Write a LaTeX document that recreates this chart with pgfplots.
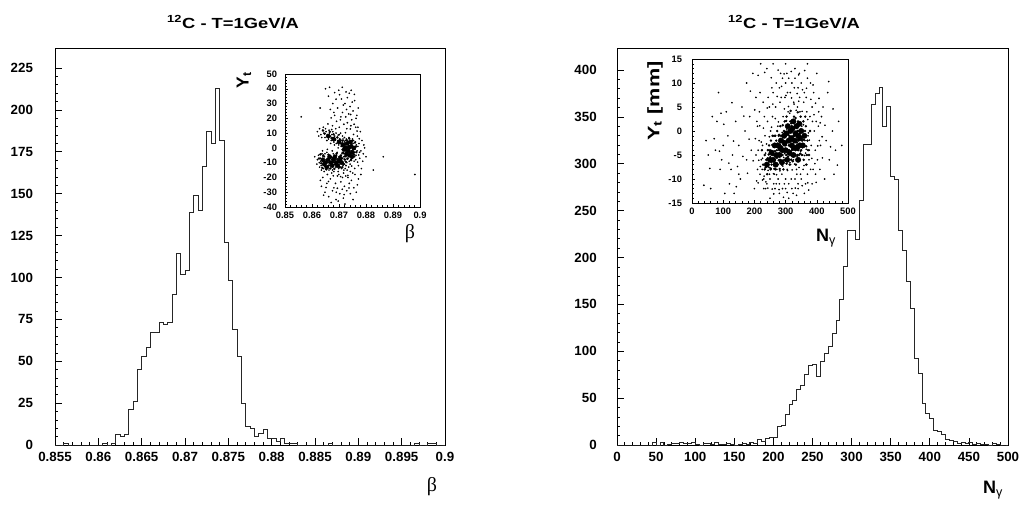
\documentclass[border=0pt]{standalone}
\usepackage{pgfplots}
\pgfplotsset{compat=1.18}
\usepackage{fontspec}
\setmainfont{Liberation Sans}
\newfontfamily\greekserif{Liberation Serif}
\begin{document}
\begin{tikzpicture}
\useasboundingbox (0,0) rectangle (767.25pt,381pt);
\pgfplotsset{
  mainax/.style={scale only axis, tick pos=left, tick align=inside,
    axis line style={line width=0.6pt}, major tick length=5pt, minor tick length=2.6pt,
    every tick/.style={black, line width=0.5pt},
    /pgf/number format/assume math mode=true,
    tick label style={font=\bfseries\fontsize{10}{12}\selectfont},
    xticklabel style={yshift=-2pt}},
  inset/.style={scale only axis, tick pos=left, tick align=inside,
    axis line style={line width=0.5pt}, major tick length=2.5pt, minor tick length=1.2pt,
    every tick/.style={black, line width=0.4pt},
    /pgf/number format/assume math mode=true,
    tick label style={font=\bfseries\fontsize{7}{8}\selectfont}},
  sparse/.style={only marks, mark=*, mark size=0.4pt, black},
  med/.style={only marks, mark=*, mark size=0.7pt, black},
  dark/.style={only marks, mark=*, mark size=1.7pt, black}
}
% ---------------- left main histogram ----------------
\begin{axis}[mainax, at={(41.25pt,47.25pt)}, anchor=south west,
  width=292.5pt, height=297.75pt,
  xmin=0.855, xmax=0.9, ymin=0, ymax=236.9,
  xtick={0.855,0.86,0.865,0.87,0.875,0.88,0.885,0.89,0.895,0.9},
  xticklabels={0.855,0.86,0.865,0.87,0.875,0.88,0.885,0.89,0.895,0.9},
  minor x tick num=4,
  ytick={0,25,50,75,100,125,150,175,200,225}, minor y tick num=4,
  yticklabel style={xshift=-13pt}]
\addplot[const plot, black!85, line width=0.7pt] table {
x y
0.8550 0
0.8555 0
0.8560 1
0.8565 0
0.8570 0
0.8575 0
0.8580 0
0.8585 0
0.8590 0
0.8595 0
0.8600 0
0.8605 1
0.8610 0
0.8615 1
0.8620 6
0.8625 5
0.8630 6
0.8635 21
0.8640 26
0.8645 45
0.8650 53
0.8655 58
0.8660 67
0.8665 67
0.8670 73
0.8675 72
0.8680 73
0.8685 90
0.8690 114
0.8695 102
0.8700 104
0.8705 139
0.8710 149
0.8715 140
0.8720 166
0.8725 187
0.8730 180
0.8735 213
0.8740 182
0.8745 121
0.8750 98
0.8755 69
0.8760 53
0.8765 25
0.8770 11
0.8775 10
0.8780 5
0.8785 7
0.8790 9
0.8795 4
0.8800 4
0.8805 2
0.8810 4
0.8815 1
0.8820 1
0.8825 1
0.8830 0
0.8835 0
0.8840 0
0.8845 0
0.8850 0
0.8855 0
0.8860 0
0.8865 1
0.8870 0
0.8875 0
0.8880 0
0.8885 0
0.8890 0
0.8895 0
0.8900 0
0.8905 0
0.8910 0
0.8915 0
0.8920 0
0.8925 0
0.8930 0
0.8935 0
0.8940 0
0.8945 0
0.8950 0
0.8955 0
0.8960 0
0.8965 1
0.8970 0
0.8975 0
0.8980 1
0.8985 1
0.8990 0
0.8995 0
0.9000 0
};
\end{axis}
% ---------------- left inset scatter ----------------
\begin{axis}[inset, at={(213.75pt,225.75pt)}, anchor=south west,
  width=101.25pt, height=99.75pt,
  xmin=0.85, xmax=0.9, ymin=-40, ymax=50,
  xtick={0.85,0.86,0.87,0.88,0.89,0.9}, xticklabels={0.85,0.86,0.87,0.88,0.89,0.9},
  minor x tick num=4,
  ytick={-40,-30,-20,-10,0,10,20,30,40,50}, minor y tick num=4,
  yticklabel style={xshift=-2.5pt}]
\addplot[sparse] coordinates {
(0.8665,41) (0.8712,41) (0.8745,39) (0.8702,36) (0.8731,34) (0.8689,33) (0.8758,32) (0.8677,30)
(0.8722,30) (0.8741,28) (0.8695,27) (0.8668,26) (0.8752,25) (0.8713,24) (0.8736,23) (0.8684,22)
(0.8725,21) (0.8763,20) (0.8705,19) (0.8747,19) (0.8691,18) (0.8731,17) (0.8756,16) (0.8718,16)
(0.8676,15) (0.8744,15) (0.8701,14) (0.8762,14) (0.8729,13) (0.8688,13) (0.8661,35) (0.8771,27)
(0.8699,39) (0.8738,37) (0.8716,29) (0.8681,24) (0.8766,22) (0.8749,31) (0.8728,26) (0.8707,21)
(0.8620,11) (0.8628,13) (0.8633,9) (0.8639,12) (0.8644,10) (0.8648,7) (0.8652,11) (0.8657,9)
(0.8661,6) (0.8664,10) (0.8668,8) (0.8671,5) (0.8674,9) (0.8678,7) (0.8681,4) (0.8684,8)
(0.8687,6) (0.8690,3) (0.8693,7) (0.8696,5) (0.8699,2) (0.8702,6) (0.8705,4) (0.8708,1)
(0.8711,5) (0.8714,3) (0.8717,0) (0.8720,4) (0.8723,2) (0.8726,-1) (0.8636,7) (0.8650,13)
(0.8663,12) (0.8677,11) (0.8689,10) (0.8701,9) (0.8713,8) (0.8655,5) (0.8669,3) (0.8683,2)
(0.8697,0) (0.8642,14) (0.8625,8) (0.8715,6) (0.8706,10)
(0.8708,2) (0.8712,-3) (0.8715,5) (0.8718,-6) (0.8721,1) (0.8724,-2) (0.8727,6) (0.8730,-5)
(0.8733,3) (0.8736,-1) (0.8739,4) (0.8742,-4) (0.8745,2) (0.8748,-7) (0.8751,0) (0.8754,5)
(0.8757,-3) (0.8760,1) (0.8763,-5) (0.8710,-7) (0.8716,0) (0.8722,-8) (0.8728,1) (0.8734,-6)
(0.8740,0) (0.8746,-2) (0.8752,3) (0.8758,-6) (0.8764,2) (0.8713,4) (0.8719,-4) (0.8725,3)
(0.8731,-3) (0.8737,7) (0.8743,1) (0.8749,-5) (0.8755,-1) (0.8761,4) (0.8720,7) (0.8732,0)
(0.8744,-8) (0.8750,6) (0.8726,-6) (0.8738,-9) (0.8747,4) (0.8756,-9) (0.8767,-2) (0.8770,1)
(0.8711,1) (0.8729,-10) (0.8741,-11) (0.8735,2) (0.8753,-4) (0.8759,-1) (0.8723,5) (0.8717,-2)
(0.8739,-2) (0.8744,3) (0.8733,-7) (0.8762,-8)
(0.8620,-8) (0.8624,-5) (0.8627,-10) (0.8631,-7) (0.8634,-12) (0.8637,-4) (0.8640,-9) (0.8643,-14)
(0.8646,-6) (0.8649,-11) (0.8652,-8) (0.8655,-3) (0.8658,-13) (0.8661,-7) (0.8664,-10) (0.8667,-5)
(0.8670,-12) (0.8673,-8) (0.8676,-15) (0.8679,-4) (0.8682,-10) (0.8685,-7) (0.8688,-13) (0.8691,-5)
(0.8694,-9) (0.8697,-16) (0.8700,-6) (0.8703,-11) (0.8706,-8) (0.8709,-14) (0.8712,-10) (0.8715,-12)
(0.8718,-15) (0.8721,-11) (0.8632,-9) (0.8641,-6) (0.8651,-13) (0.8660,-10) (0.8669,-7) (0.8678,-12)
(0.8687,-9) (0.8696,-11) (0.8705,-13) (0.8714,-7) (0.8723,-14) (0.8628,-13) (0.8645,-16) (0.8663,-15)
(0.8681,-16) (0.8699,-14) (0.8717,-17) (0.8639,-2) (0.8657,-1) (0.8675,-2) (0.8693,-3) (0.8711,-4)
(0.8666,-9) (0.8684,-5) (0.8702,-9) (0.8654,-10) (0.8672,-10) (0.8690,-12) (0.8708,-5) (0.8726,-12)
(0.8730,-15) (0.8736,-13) (0.8742,-16) (0.8648,-4) (0.8618,-11) (0.8635,-15)
(0.8640,-20) (0.8655,-24) (0.8668,-21) (0.8681,-27) (0.8694,-19) (0.8707,-23) (0.8720,-26) (0.8733,-20)
(0.8746,-22) (0.8759,-18) (0.8772,-21) (0.8648,-30) (0.8662,-33) (0.8676,-29) (0.8689,-35) (0.8703,-31)
(0.8716,-34) (0.8729,-29) (0.8742,-31) (0.8755,-27) (0.8768,-25) (0.8781,-18) (0.8657,-18) (0.8673,-17)
(0.8699,-18) (0.8725,-19) (0.8751,-17) (0.8635,-26) (0.8687,-24) (0.8712,-28) (0.8738,-24) (0.8764,-30)
(0.8671,-37) (0.8697,-36) (0.8722,-38) (0.8643,-32) (0.8631,-22) (0.8752,-35) (0.8713,-20) (0.8690,-30)
(0.8768,8) (0.8774,3) (0.8781,-2) (0.8777,-7) (0.8785,5) (0.8790,-4) (0.8772,-12) (0.8795,0)
(0.8779,11) (0.8788,-9) (0.8770,14) (0.8800,-6) (0.8783,-14) (0.8776,-3) (0.8792,2)
(0.8560,21) (0.8864,-6) (0.8981,-18) (0.8827,-15) (0.8630,27) (0.8610,-6) (0.8650,40)
(0.8673,12.4) (0.8697,8.7) (0.8659,16.2) (0.8724,10.3) (0.8742,12.8) (0.8754,9.1) (0.8733,-18.6)
(0.8706,-19.4) (0.8679,-18.9) (0.8661,-22.7) (0.8747,-12.3) (0.8758,-13.9) (0.8769,-9.6) (0.8773,-4.8)
(0.8775,6.2) (0.8767,11.4) (0.8652,-26.8) (0.8719,-31.6) (0.8694,-27.3) (0.8737,-27.1) (0.8684,37.4)
(0.8726,37.9) (0.8709,33.1) (0.8757,36.2) (0.8671,20.3) (0.8743,22.6)
};
\addplot[med] coordinates {
(0.8718,2.6) (0.8727,-1.8) (0.8734,4.1) (0.8741,-3.2) (0.8748,1.7) (0.8756,-4.6) (0.8762,0.8)
(0.8722,-5.7) (0.8731,-7.4) (0.8745,-8.3) (0.8752,-1.1) (0.8738,6.3) (0.8716,-3.4) (0.8729,5.2)
(0.8759,3.6) (0.8764,-2.9) (0.8736,-4.7) (0.8749,4.9) (0.8713,-1.2) (0.8725,-9.3)
(0.8626,-7.2) (0.8634,-10.4) (0.8642,-5.1) (0.8649,-12.7) (0.8656,-8.6) (0.8663,-11.8) (0.8671,-6.3)
(0.8678,-9.7) (0.8686,-11.2) (0.8693,-7.6) (0.8701,-12.9) (0.8709,-8.3) (0.8716,-10.8) (0.8638,-13.5)
(0.8653,-14.6) (0.8668,-13.9) (0.8683,-14.2) (0.8698,-9.4) (0.8712,-13.1) (0.8646,-8.9) (0.8661,-4.6)
(0.8676,-6.8) (0.8691,-3.9) (0.8706,-5.2) (0.8631,-4.4) (0.8721,-7.8)
(0.8647,9.6) (0.8659,8.1) (0.8672,6.7) (0.8686,5.4) (0.8698,3.8) (0.8709,2.9) (0.8641,11.7)
(0.8666,10.9) (0.8680,9.2) (0.8694,7.1) (0.8704,5.6)
};
\addplot[dark, mark size=1.5pt] coordinates {
(0.8725,0) (0.8735,-2) (0.8745,1) (0.8740,-5) (0.8730,3) (0.8750,-3) (0.8728,-4) (0.8742,4)
(0.8755,0) (0.8720,-1) (0.8738,0.5) (0.8748,-6)
(0.8640,-8) (0.8650,-10) (0.8660,-8) (0.8670,-10) (0.8680,-8) (0.8690,-10) (0.8700,-9) (0.8710,-10)
(0.8655,-13) (0.8675,-12) (0.8695,-12) (0.8665,-6) (0.8685,-6) (0.8705,-7) (0.8645,-11)
(0.8660,8) (0.8680,6) (0.8700,4) (0.8715,2)
};
\end{axis}
% ---------------- right main histogram ----------------
\begin{axis}[mainax, at={(462.75pt,47.25pt)}, anchor=south west,
  width=293.25pt, height=297.75pt,
  xmin=0, xmax=500, ymin=0, ymax=423.5,
  xtick={0,50,...,500}, minor x tick num=4,
  ytick={0,50,...,400}, minor y tick num=4,
  yticklabel style={xshift=-11.7pt}]
\addplot[const plot, black!85, line width=0.7pt] table {
x y
0 0
5 0
10 0
15 0
20 0
25 0
30 0
35 0
40 0
45 3
50 0
55 3
60 0
65 1
70 2
75 2
80 3
85 2
90 2
95 3
100 1
105 0
110 2
115 2
120 1
125 3
130 1
135 1
140 2
145 1
150 0
155 1
160 2
165 1
170 3
175 2
180 6
185 4
190 7
195 8
200 8
205 20
210 21
215 33
220 43
225 48
230 59
235 64
240 75
245 85
250 86
255 73
260 89
265 98
270 105
275 119
280 133
285 155
290 190
295 229
300 229
305 219
310 261
315 321
320 321
325 363
330 375
335 381
340 340
345 361
350 286
355 283
360 229
365 208
370 174
375 146
380 92
385 76
390 44
395 34
400 28
405 16
410 14
415 11
420 6
425 5
430 4
435 2
440 3
445 2
450 3
455 1
460 2
465 1
470 1
475 0
480 2
485 1
490 0
495 0
500 0
};
\end{axis}
% ---------------- right inset scatter ----------------
\begin{axis}[inset, at={(519pt,228.75pt)}, anchor=south west,
  width=117pt, height=108pt,
  xmin=0, xmax=500, ymin=-15, ymax=15,
  xtick={0,100,...,500}, minor x tick num=4,
  ytick={-15,-10,...,15}, minor y tick num=4,
  yticklabel style={xshift=-4pt}]
\addplot[sparse] coordinates {
(45,-2) (52,-5) (60,-12) (75,-4) (80,2) (95,-6) (100,-3) (110,4) (115,-1) (125,-8) (130,-5) (140,2)
(150,-3) (155,-10) (160,5) (170,0) (175,-6) (185,3) (190,-4) (195,12) (200,-12) (205,7) (210,1)
(150,-9) (120,-11) (90,-8) (65,3) (135,-13) (175,10) (220,14) (240,13) (260,14) (300,14) (330,13)
(370,14) (400,12) (420,5) (430,-2) (440,-6) (450,0) (460,-4) (470,2) (455,-9) (435,8) (480,-3)
(250,-14) (280,-13) (310,-14) (340,-12) (360,-13) (385,-11) (230,-12) (270,-11) (300,-12) (350,-10)
(410,-8) (415,3) (425,-10) (105,-13) (85,8)
(38,-11.3) (57,-7.8) (71,-1.6) (88,-4.2) (102,1.4) (118,-6.7) (133,-2.1) (146,-7.4) (163,-5.3)
(178,-8.8) (183,-1.7) (196,-6.2) (201,4.4) (187,8.3) (166,3.1) (142,-11.6) (128,5.9) (93,3.7)
(212,11.6) (233,12.2) (254,11.1) (276,12.7) (295,11.9) (318,12.4) (342,11.7) (361,12.6) (388,9.6)
(407,6.8) (426,1.2) (444,-3.3) (418,-5.6) (398,-10.7) (374,-12.3) (335,-13.4) (293,-13.8) (262,-13.1)
(243,-11.9) (226,-10.2) (212,-10.8) (452,4.6) (466,-7.1) (438,10.3)
(205,-5) (210,-8) (215,-2) (218,-9) (222,-6) (226,-3) (230,-10) (234,-1) (238,-7) (242,2) (245,-4)
(248,-9) (252,0) (255,-6) (258,3) (262,-11) (265,-3) (268,5) (272,-8) (275,1) (278,-5) (282,6)
(285,-2) (288,-9) (292,3) (295,-6) (298,7) (302,-1) (305,-8) (308,4) (312,-4) (315,8) (318,-10)
(322,2) (325,-6) (328,9) (332,-2) (335,-8) (338,5) (342,-4) (345,7) (348,-9) (352,1) (355,-5)
(358,6) (362,-2) (365,-7) (368,4) (372,-1) (375,-6) (378,3) (382,-3) (385,5) (388,-8) (392,0)
(395,-4) (398,2) (402,-6) (405,1) (408,-2) (260,8) (270,10) (280,9) (290,11) (300,10) (310,11)
(320,10) (330,11) (340,9) (350,10) (360,8) (280,-11) (290,-12) (300,-10) (310,-11) (320,-12)
(330,-10) (340,-11) (370,-9) (380,-8) (250,-10) (240,-11) (225,-8) (212,-4) (208,2) (216,4)
(228,6) (236,-12) (244,7) (256,9) (264,-9) (276,-10) (286,7) (296,-11) (306,8) (316,-7) (326,6)
(336,-9) (346,4) (356,-8) (366,7) (376,-4) (386,2) (396,-9) (406,4) (412,-3) (390,8) (380,10)
(370,11) (232,3) (248,5) (266,-12) (284,12) (304,12) (324,-13) (344,12) (364,-11) (218,8)
(251,-5.3) (263,-7.1) (274,-2.6) (286,-6.4) (297,-4.7) (309,-0.8) (318,-5.9) (327,-3.4) (339,-1.7)
(348,-4.2) (357,1.3) (366,-3.8) (373,-0.4) (244,-8.2) (256,-2.9) (268,-6.8) (279,-3.9) (291,-7.3)
(303,-2.2) (314,-6.6) (326,0.7) (337,-4.9) (349,-2.6) (361,-5.1) (371,2.4) (236,-4.6) (247,-7.6)
(259,-4.4) (271,-9.1) (283,-2.8) (294,-5.5) (306,-8.2) (317,-2.1) (329,-6.9) (341,1.8) (352,-2.9)
(364,-4.6) (376,-1.9) (239,-2.7) (261,-8.9) (282,-8.3) (304,0.4) (321,-8.1) (343,-7.6) (359,-7.2)
(313,3.7) (334,4.3) (353,4.1) (327,5.6) (342,6.2) (309,5.1) (296,4.6) (289,-0.3) (277,1.9) (267,2.6)
(255,0.8) (248,-1.2) (231,-9.4) (226,-5.7) (222,-2.3) (219,-7.4) (214,-6.1) (384,-5.7) (391,3.4)
(381,6.6) (367,8.9) (354,8.6) (337,7.8) (319,6.9) (301,7.4) (287,9.3) (273,7.2) (259,5.6) (241,4.8)
(229,0.6) (217,1.1) (203,-1.6) (207,-10.4) (237,-10.6) (257,-12.1) (279,-12.2) (305,-12.8) (331,-11.9)
(353,-11.4) (371,-10.8) (394,-6.8) (403,-3.1) (396,5.8) (411,1.7) (417,-1.2)
};
\addplot[med] coordinates {
(245,-6) (250,-4) (255,-7) (260,-3) (265,-6) (270,-2) (275,-7) (280,-4) (285,-1) (290,-5) (295,0)
(300,-3) (305,1) (310,-4) (315,2) (320,-2) (325,-5) (330,1) (335,-3) (340,2) (345,-1) (350,-4)
(355,0) (360,-3) (365,1) (370,-2) (375,-5) (252,-8) (262,-5) (272,-4) (282,-6) (292,-2) (302,-5)
(312,-1) (322,0) (332,-4) (342,-2) (352,-5) (362,0) (372,-4) (258,-1) (268,-8) (278,-1) (288,-7)
(298,-6) (308,-2) (318,-6) (328,-1) (338,0) (348,3) (358,-6) (368,-5) (378,0) (247,-3) (257,-5)
(267,-1) (277,-3) (287,-4) (297,2) (307,-6) (317,0) (327,3) (337,-6) (347,-3) (357,2) (367,-7)
(283,1) (293,-8) (303,3) (313,-7) (323,-3) (333,-7) (343,-5) (353,-2) (363,3) (273,0) (263,-1)
(253,-2) (243,-4) (238,-6) (233,-5) (228,-7) (224,-4) (233,-8) (241,-9) (300,-1) (310,-3)
(320,-4) (330,-2) (340,-4) (320,1) (330,-5) (340,0) (315,-5) (325,-1) (335,1) (345,-6) (305,-4)
(295,-3) (285,-5) (275,-5)
(312,-4.6) (321,-1.4) (331,-3.9) (323,-6.3) (336,-2.4) (345,-0.6) (354,-3.4) (299,-2.8) (288,-3.6)
(278,-6.1) (266,-4.2) (254,-6.4) (246,-4.9) (315,-3.1) (326,-2.2) (337,-5.2) (318,1.6) (332,2.7)
(347,-4.7) (308,-5.3) (293,-6.7) (281,-7.9) (272,-5.6) (262,-3.3) (252,-7.8) (242,-5.7) (303,-6.8)
(316,4.2) (339,3.9) (358,-1.8) (366,-3.2) (302,2.1) (291,1.2) (279,-0.8) (264,-7.9) (236,-7.6)
};
\addplot[dark, mark size=2pt] coordinates {
(330,-2) (320,-3) (340,-1) (310,-2) (300,-4) (290,-4) (280,-5) (270,-5) (260,-6) (250,-6) (315,0)
(335,1) (345,-3) (325,-5) (305,-6) (350,0) (355,-3) (295,-1) (285,-2) (275,-3) (325,2) (340,-6)
(265,-3) (360,-1) (240,-7) (318,-1.5) (332,-0.5) (326,-3.5) (312,-4.5) (297,-2.5) (283,-3.5)
(347,-1.5) (337,-3.5) (307,1) (322,0.5) (344,1.5) (288,-6.5) (268,-7) (255,-4.5) (302,-0.5)
};
\end{axis}
% ---------------- texts ----------------
\node[font=\bfseries\fontsize{11}{13}\selectfont] at (174.75pt,364.5pt) {\scalebox{1.25}[1]{\textsuperscript{12}C - T=1GeV/A}};
\node[font=\bfseries\fontsize{11}{13}\selectfont] at (595.5pt,364.5pt) {\scalebox{1.25}[1]{\textsuperscript{12}C - T=1GeV/A}};
\node[font=\greekserif\fontsize{15}{18}\selectfont] at (324pt,15.75pt) {β};
\node[font=\bfseries\fontsize{13.5}{16}\selectfont] at (744.75pt,13.5pt) {N\textsubscript{\mdseries γ}};
\node[font=\bfseries\fontsize{13}{15}\selectfont, rotate=90] at (183pt,321pt) {Y\textsubscript{t}};
\node[font=\greekserif\fontsize{15}{18}\selectfont] at (307.5pt,205.5pt) {β};
\node[font=\bfseries\fontsize{12.5}{15}\selectfont, rotate=90] at (491.25pt,305.25pt) {\scalebox{1.3}[1]{Y\textsubscript{t} [mm]}};
\node[font=\bfseries\fontsize{13.5}{16}\selectfont] at (619.5pt,202.5pt) {N\textsubscript{\mdseries γ}};
\end{tikzpicture}
\end{document}
